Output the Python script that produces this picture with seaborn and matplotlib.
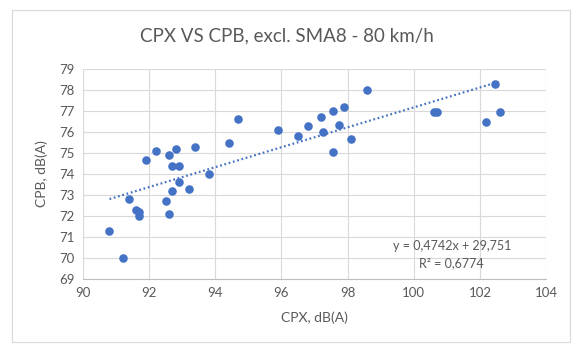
import matplotlib
matplotlib.use("Agg")
import matplotlib.pyplot as plt
from matplotlib.patches import FancyBboxPatch
import seaborn as sns
import numpy as np
import pandas as pd

cpx = [90.8, 91.2, 91.4, 91.6, 91.7, 91.7, 91.9, 92.2, 92.5, 92.6, 92.6, 92.7,
       92.7, 92.8, 92.9, 92.9, 93.2, 93.4, 93.8, 94.4, 94.7, 95.9, 96.5, 96.8,
       97.2, 97.25, 97.55, 97.55, 97.75, 97.9, 98.1, 98.6, 100.6, 100.7, 102.2,
       102.45, 102.6]
cpb = [71.3, 70.0, 72.8, 72.3, 72.2, 72.0, 74.65, 75.1, 72.7, 72.1, 74.9, 73.2,
       74.4, 75.2, 74.4, 73.6, 73.3, 75.3, 74.0, 75.5, 76.6, 76.1, 75.8, 76.3,
       76.7, 76.0, 77.0, 75.05, 76.35, 77.2, 75.65, 78.0, 76.95, 76.95, 76.5,
       78.3, 76.95]
slope = 0.4742
intercept = 29.751
r2 = 0.6774
title = "CPX VS CPB, excl. SMA8 - 80 km/h"
xlabel = "CPX, dB(A)"
ylabel = "CPB, dB(A)"
xticks = [90, 92, 94, 96, 98, 100, 102, 104]
yticks = [69, 70, 71, 72, 73, 74, 75, 76, 77, 78, 79]

sns.set_theme(style="white")
plt.rcParams['font.family'] = ['Lato', 'DejaVu Sans']

blue = "#4472C4"
gray_text = "#595959"

fig = plt.figure(figsize=(5.73, 3.45), dpi=100)
ax = fig.add_axes([0.1449, 0.1913, 0.9529 - 0.1449, 0.8 - 0.1913])

df = pd.DataFrame({"CPX": cpx, "CPB": cpb})
sns.scatterplot(data=df, x="CPX", y="CPB", ax=ax, color=blue, s=38,
                edgecolor=blue, linewidth=0, zorder=3)

tx = np.array([min(cpx), max(cpx)])
trend = pd.DataFrame({"x": tx, "y": slope * tx + intercept})
sns.lineplot(data=trend, x="x", y="y", ax=ax, color=blue, linewidth=1.6,
             linestyle=(0, (0.8, 1.2)), zorder=2)

ax.set_xlim(90, 104)
ax.set_ylim(69, 79)
ax.set_xticks(xticks)
ax.set_yticks(yticks)
ax.grid(True, color="#D9D9D9", linewidth=0.8)
ax.set_axisbelow(True)
for s in ["top", "right", "left"]:
    ax.spines[s].set_visible(False)
ax.spines["bottom"].set_color("#BFBFBF")
ax.spines["bottom"].set_linewidth(0.8)
ax.tick_params(axis="both", length=0, labelsize=9.5, colors=gray_text, pad=6)

ax.set_xlabel(xlabel, fontsize=10, color=gray_text, labelpad=9)
ax.set_ylabel(ylabel, fontsize=10, color=gray_text, labelpad=8)

fig.text(0.5, 0.895, title, ha="center", va="center", fontsize=13.5, color=gray_text)

ax.text(101.15, 70.58, f"y = {slope:.4f}x + {intercept:.3f}".replace(".", ","),
        ha="center", va="center", fontsize=9, color=gray_text)
ax.text(101.15, 69.76, f"R² = {r2:.4f}".replace(".", ","),
        ha="center", va="center", fontsize=9, color=gray_text)

border = FancyBboxPatch((12 / 573, 3 / 345), 558 / 573, 332 / 345,
                        boxstyle="square,pad=0", transform=fig.transFigure,
                        fill=False, edgecolor="#D9D9D9", linewidth=0.8)
fig.patches.append(border)

fig.savefig("out.png", dpi=100)
